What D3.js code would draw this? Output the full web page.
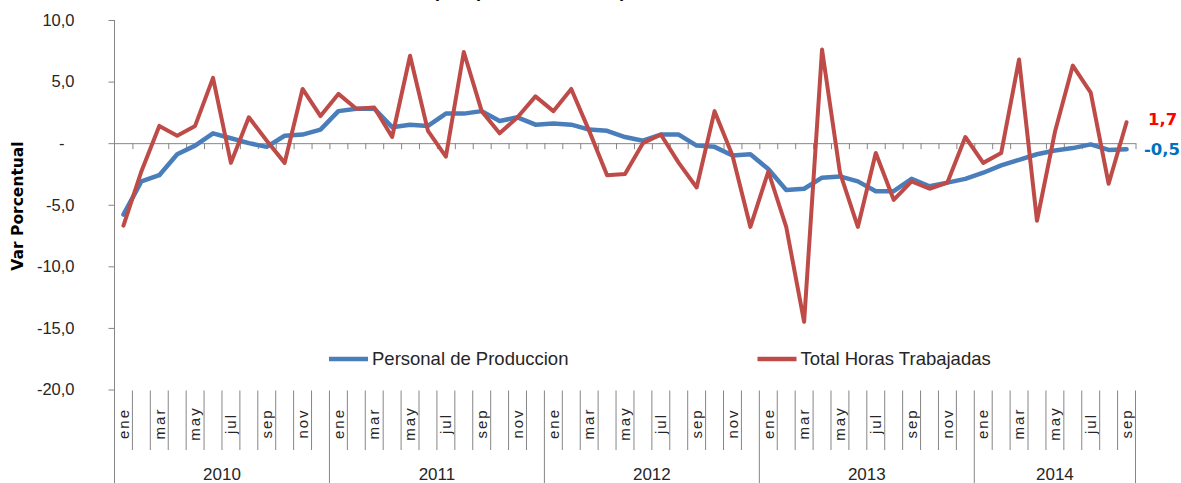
<!DOCTYPE html>
<html><head><meta charset="utf-8">
<script src="https://cdn.jsdelivr.net/npm/d3@7"></script>
<style>body{margin:0;background:#fff;}svg{display:block}</style>
</head><body>
<svg id="c" width="1181" height="483"></svg>
<script>
const years = [2010, 2011, 2012, 2013, 2014];
const monthNames = ["ene","feb","mar","abr","may","jun","jul","ago","sep","oct","nov","dic"];
const seriesNames = ["Personal de Produccion", "Total Horas Trabajadas"];
const personal = [-5.8,-3.1,-2.6,-0.9,-0.2,0.8,0.4,0.0,-0.3,0.6,0.7,1.1,
  2.6,2.8,2.8,1.3,1.5,1.4,2.4,2.4,2.6,1.8,2.1,1.5,
  1.6,1.5,1.1,1.0,0.5,0.2,0.7,0.7,-0.2,-0.3,-1.0,-0.9,
  -2.1,-3.8,-3.7,-2.8,-2.7,-3.1,-3.9,-3.9,-2.9,-3.5,-3.2,-2.9,
  -2.4,-1.8,-1.35,-0.9,-0.6,-0.4,-0.1,-0.55,-0.5];
const horas = [-6.7,-2.3,1.4,0.6,1.4,5.3,-1.6,2.1,0.2,-1.6,4.4,2.2,
  4.0,2.8,2.9,0.5,7.1,1.0,-1.1,7.4,2.6,0.8,2.1,3.8,
  2.6,4.4,1.0,-2.6,-2.5,0.0,0.7,-1.6,-3.6,2.6,-1.0,-6.8,
  -2.3,-6.8,-14.5,7.6,-2.4,-6.8,-0.8,-4.6,-3.1,-3.7,-3.2,0.5,
  -1.6,-0.8,6.8,-6.3,0.9,6.3,4.1,-3.3,1.7];
const yTicks = [-20, -15, -10, -5, 0, 5, 10];
const titleText = "(Var. porcentual anual)";

const colors = ["#4A7EBB", "#BE4B48"];
const labelColors = ["#0070C0", "#FF0000"];
const axisColor = "#868686";

// category table built from years x months
const categories = [];
years.forEach(yr => monthNames.forEach(m => categories.push({year: yr, month: m})));
categories.length = personal.length;
const n = categories.length;

const svg = d3.select("#c");
const left = 114.5, right = 1135.5;
const x = d3.scaleBand().domain(d3.range(n)).range([left, right]).padding(0);
const xb = d3.scaleLinear().domain([0, n]).range([left, right]);
const y = d3.scaleLinear().domain([-20, 10]).range([389.5, 20]);
const fmt = v => v === 0 ? "-" : d3.format(".1f")(v).replace(".", ",").replace("\u2212", "-");

// title (cut off at top, as in the reference)
svg.append("text").attr("x", 433).attr("y", -3)
  .attr("font-family", "Liberation Sans, Arial, sans-serif").attr("font-weight", "bold")
  .attr("font-size", 18).attr("fill", "#000").text(titleText);

// y axis
const ya = svg.append("g").attr("transform", `translate(${left},0)`)
  .call(d3.axisLeft(y).tickValues(yTicks).tickSize(6).tickPadding(34).tickFormat(fmt));
ya.select(".domain").remove();
ya.selectAll(".tick line").attr("stroke", axisColor);
ya.selectAll(".tick text").attr("font-family", "Liberation Sans, Arial, sans-serif")
  .attr("font-size", 16.5).attr("fill", "#262626")
  .attr("dx", d => d === 0 ? -10 : 0);
svg.append("line").attr("x1", left).attr("x2", left).attr("y1", y(10)).attr("y2", 483)
  .attr("stroke", axisColor);

// y label
svg.append("text").attr("transform", "translate(23,206) rotate(-90)")
  .attr("text-anchor", "middle").attr("font-family", "DejaVu Sans, sans-serif")
  .attr("font-weight", "bold").attr("font-size", 15.5).attr("fill", "#000")
  .text("Var Porcentual");

// zero axis with ticks
const za = svg.append("g").attr("transform", `translate(0,${y(0)})`)
  .call(d3.axisBottom(xb).tickValues(d3.range(1, n + 1)).tickSize(6).tickSizeOuter(0).tickFormat(""));
za.select(".domain").attr("stroke", axisColor);
za.selectAll(".tick line").attr("stroke", axisColor);

// bottom category axis
const bottomY = 390.5;
const ca = svg.append("g").attr("transform", `translate(0,${bottomY})`)
  .call(d3.axisBottom(x).tickSize(0).tickFormat(i => i % 2 === 0 ? categories[i].month : ""));
ca.select(".domain").remove();
ca.selectAll(".tick text")
  .attr("transform", "translate(0,33) rotate(-90)")
  .attr("x", 0).attr("y", 0).attr("dy", "0.35em").attr("text-anchor", "middle")
  .attr("font-family", "Liberation Sans, Arial, sans-serif").attr("font-size", 15)
  .attr("letter-spacing", 2).attr("fill", "#262626");

// separators
const bounds = d3.range(1, n + 1);
svg.append("g").selectAll("line").data(bounds).join("line")
  .attr("x1", d => xb(d)).attr("x2", d => xb(d))
  .attr("y1", bottomY).attr("y2", d => (d % 12 === 0 || d === n) ? 483 : 450)
  .attr("stroke", axisColor);

// year labels
svg.append("g").selectAll("text").data(years).join("text")
  .attr("x", (yr, k) => (xb(k * 12) + xb(Math.min((k + 1) * 12, n))) / 2)
  .attr("y", 480).attr("text-anchor", "middle")
  .attr("font-family", "Liberation Sans, Arial, sans-serif").attr("font-size", 17)
  .attr("fill", "#262626").text(d => d);

// lines
const line = d3.line().x((d, i) => x(i) + x.bandwidth() / 2).y(d => y(d));
[personal, horas].forEach((s, k) => {
  svg.append("path").datum(s).attr("d", line).attr("fill", "none")
    .attr("stroke", colors[k]).attr("stroke-width", k === 0 ? 4.5 : 4)
    .attr("stroke-linejoin", "round").attr("stroke-linecap", "round");
});

// end labels
const lastVals = [personal[n - 1], horas[n - 1]];
svg.append("g").selectAll("text").data(lastVals).join("text")
  .attr("x", (d, k) => k === 0 ? 1144 : 1148)
  .attr("y", (d, k) => y(d) + (k === 0 ? 0 : -3)).attr("dy", "0.35em")
  .attr("font-family", "DejaVu Sans, sans-serif").attr("font-weight", "bold")
  .attr("font-size", 16.5).attr("fill", (d, k) => labelColors[k])
  .text(d => fmt(d));

// legend
const legX = [329, 757.5];
const lg = svg.append("g").selectAll("g").data(seriesNames).join("g")
  .attr("transform", (d, k) => `translate(${legX[k]},359)`);
lg.append("line").attr("x1", 0).attr("x2", 39).attr("stroke", (d, k) => colors[k]).attr("stroke-width", 4.5);
lg.append("text").attr("x", 43).attr("dy", "0.35em")
  .attr("font-family", "Liberation Sans, Arial, sans-serif").attr("font-size", 18.5)
  .attr("fill", "#262626").text(d => d);
</script>
</body></html>
